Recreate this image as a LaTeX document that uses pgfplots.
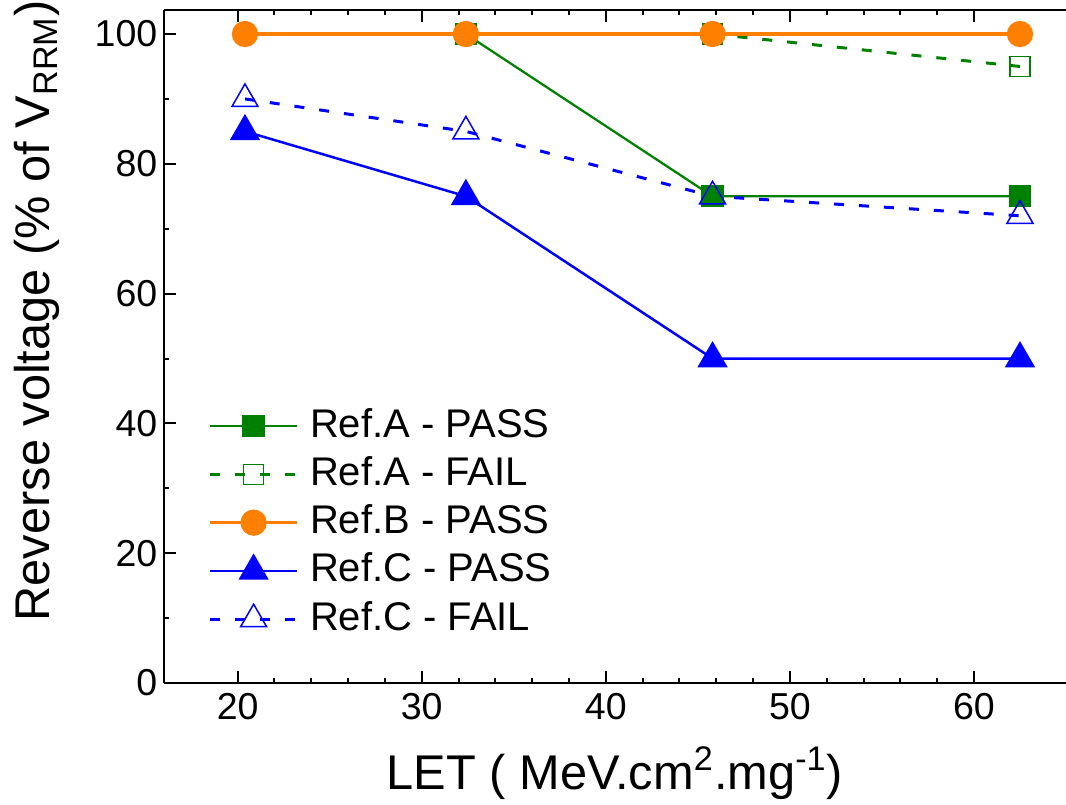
\documentclass[border=0pt]{standalone}
\usepackage{fontspec}
\setmainfont{Liberation Sans}
\usepackage{pgfplots}
\pgfplotsset{compat=1.18}
\definecolor{refgreen}{RGB}{0,128,0}
\definecolor{reforange}{RGB}{255,128,0}
\definecolor{refblue}{RGB}{0,0,255}
\tikzset{
  refdash/.style={dash pattern=on 4pt off 6pt},
}
\begin{document}
\begin{tikzpicture}
\begin{axis}[
    scale only axis,
    width=360.8pt, height=269.2pt,
    xmin=16, xmax=65,
    ymin=0, ymax=103.7,
    xtick={20,30,40,50,60},
    ytick={0,20,40,60,80,100},
    minor x tick num=4,
    minor y tick num=1,
    tick align=inside,
    major tick length=4.8pt,
    minor tick length=2pt,
    axis x line*=box,
    axis y line*=left,
    axis line style={line width=1pt},
    every tick/.style={black, line width=0.8pt},
    /pgf/number format/assume math mode=true,
    tick label style={font=\fontsize{15pt}{18pt}\selectfont},
    yticklabel style={inner xsep=0pt, xshift=-2.5pt},
    xticklabel style={inner ysep=0pt, yshift=-4pt},
    xlabel={LET ( MeV.cm\textsuperscript{2}.mg\textsuperscript{-1})},
    ylabel={Reverse voltage (\% of V\textsubscript{RRM})},
    label style={font=\fontsize{19.5pt}{23pt}\selectfont},
    xlabel style={at={(rel axis cs:0.5,0)}, anchor=base, yshift=-42.4pt},
    ylabel style={at={(rel axis cs:-0.1264,0.553)}, anchor=base},
    clip=false,
    legend cell align=left,
    legend image code/.code={
      \draw[mark repeat=2,mark phase=2] plot coordinates {(0pt,0pt) (17.4pt,0pt) (34.8pt,0pt)};
    },
    legend style={at={(rel axis cs:0.0488,0.409)}, anchor=north west,
      draw=none, fill=none, inner sep=0pt, row sep=5pt, column sep=4.5pt,
      font=\fontsize{16pt}{19pt}\selectfont,
      nodes={inner sep=0pt, text height=11.5pt, text depth=2.8pt}},
]
\addplot[refgreen, line width=0.9pt, mark=square*, mark size=4pt]
  coordinates {(32.4,100) (45.8,75) (62.5,75)};
\addplot[refgreen, line width=1.2pt, refdash, mark=square, mark size=4pt,
  mark options={solid, fill=white, line width=0.6pt}]
  coordinates {(45.8,100) (62.5,95)};
\addplot[reforange, line width=1.3pt, mark=*, mark size=4.6pt]
  coordinates {(20.4,100) (32.4,100) (45.8,100) (62.5,100)};
\addplot[refblue, line width=1pt, mark=triangle*, mark size=6pt]
  coordinates {(20.4,85) (32.4,75) (45.8,50) (62.5,50)};
\addplot[refblue, line width=1.2pt, refdash, mark=triangle, mark size=6pt,
  mark options={solid, fill=white, line width=0.6pt}]
  coordinates {(20.4,90) (32.4,85) (45.8,75) (62.5,72)};
\legend{Ref.A - PASS, Ref.A - FAIL, Ref.B - PASS, Ref.C - PASS, Ref.C - FAIL}
\coordinate (bbl) at (rel axis cs:-0.1818,-0.1798);
\coordinate (btr) at (rel axis cs:1,1.0149);
\end{axis}
\pgfresetboundingbox
\path[use as bounding box] (bbl) rectangle (btr);
\end{tikzpicture}
\end{document}
